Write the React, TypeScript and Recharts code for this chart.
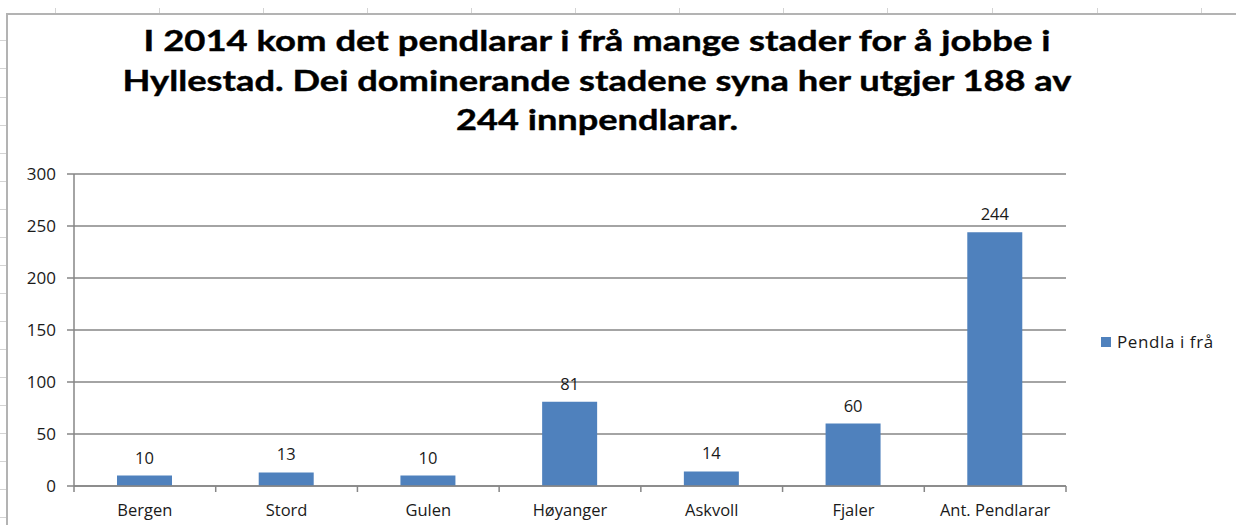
import React from 'react';
import { BarChart, Bar, XAxis, YAxis, CartesianGrid, LabelList } from 'recharts';

const places = ['Bergen', 'Stord', 'Gulen', 'Høyanger', 'Askvoll', 'Fjaler', 'Ant. Pendlarar'];
const pendlaIFra = [10, 13, 10, 81, 14, 60, 244];
const yTicks = [0, 50, 100, 150, 200, 250, 300];
const seriesName = 'Pendla i frå';
const titleLines = [
  'I 2014 kom det pendlarar i frå mange stader for å jobbe i',
  'Hyllestad. Dei dominerande stadene syna her utgjer 188 av',
  '244 innpendlarar.',
];

const data = places.map((name, i) => ({ name, value: pendlaIFra[i] }));

const FONT = 'Lato, "Open Sans", sans-serif';
const LABEL_FONT = '"Open Sans", Lato, sans-serif';
const GRID = '#868686';
const BAR = '#4f81bd';
const TEXT = '#1a1a1a';
const PLOT_W = 992;
const BAND = PLOT_W / places.length;
// stretched widths of the three title lines (Excel renders them wide)
const TITLE_LAYOUT = [
  { y: 51, w: 907 },
  { y: 91, w: 949 },
  { y: 130, w: 282 },
];

const XTick = (props: any) => {
  const { x, y, payload, index } = props;
  const last = index === places.length - 1;
  return (
    <g>
      <line x1={x - BAND / 2} x2={x - BAND / 2} y1={y - 6} y2={y} stroke={GRID} strokeWidth={1.5} />
      {last && <line x1={x + BAND / 2} x2={x + BAND / 2} y1={y - 6} y2={y} stroke={GRID} strokeWidth={1.5} />}
      <text x={x} y={y + 24} textAnchor="middle" fill={TEXT} fontSize={16.5} fontFamily={LABEL_FONT}>
        {payload.value}
      </text>
    </g>
  );
};

export default function App() {
  return (
    <div style={{ position: 'absolute', left: 0, top: 0, width: 1236, height: 525, overflow: 'hidden', background: '#fff' }}>
      {[55, 159, 263, 367, 471, 575, 679, 783, 887, 992, 1097, 1201].map((x) => (
        <div key={x} style={{ position: 'absolute', left: x, top: 8, width: 1, height: 5, background: '#d4d4d4' }} />
      ))}
      {[40, 68, 97, 125, 153, 181, 209, 237, 265, 293, 321, 349, 377, 405, 433, 461, 489, 517].map((y) => (
        <div key={y} style={{ position: 'absolute', left: 0, top: y, width: 6, height: 1, background: '#d4d4d4' }} />
      ))}
      <div
        style={{
          position: 'absolute',
          left: 6,
          top: 13,
          width: 1300,
          height: 600,
          borderLeft: '2px solid #b3b3b3',
          borderTop: '2px solid #b3b3b3',
        }}
      />
      <div style={{ position: 'absolute', left: 0, top: 0 }}>
        <BarChart
          width={1236}
          height={525}
          data={data}
          margin={{ top: 174, right: 170, bottom: 0, left: 14 }}
        >
          <CartesianGrid vertical={false} stroke={GRID} strokeWidth={1.5} />
          <XAxis
            dataKey="name"
            height={39}
            axisLine={{ stroke: GRID, strokeWidth: 1.5 }}
            tickLine={false}
            tickSize={6}
            tickMargin={0}
            interval={0}
            tick={<XTick />}
          />
          <YAxis
            domain={[0, 300]}
            ticks={yTicks}
            width={60}
            axisLine={{ stroke: GRID, strokeWidth: 1.5 }}
            tickLine={{ stroke: GRID, strokeWidth: 1.5 }}
            tickSize={7}
            tickMargin={11}
            tick={{ fill: TEXT, fontSize: 17, fontFamily: LABEL_FONT }}
          />
          <Bar dataKey="value" name={seriesName} fill={BAR} barSize={55} isAnimationActive={false}>
            <LabelList dataKey="value" position="top" offset={12} fill={TEXT} fontSize={16.5} fontFamily={LABEL_FONT} />
          </Bar>
        </BarChart>
      </div>
      <div
        style={{
          position: 'absolute',
          left: 1101,
          top: 331,
          display: 'flex',
          alignItems: 'center',
          fontFamily: LABEL_FONT,
          fontSize: 17,
          letterSpacing: 0.6,
          color: TEXT,
          lineHeight: '22px',
        }}
      >
        <span style={{ width: 10, height: 10, background: BAR, display: 'inline-block', marginRight: 6 }} />
        {seriesName}
      </div>
      <svg width={1236} height={150} style={{ position: 'absolute', left: 0, top: 0 }}>
        {titleLines.map((t, i) => (
          <text
            key={t}
            x={597}
            y={TITLE_LAYOUT[i].y}
            textAnchor="middle"
            textLength={TITLE_LAYOUT[i].w}
            lengthAdjust="spacingAndGlyphs"
            fontFamily={FONT}
            fontWeight={700}
            fontSize={29}
            fill="#000"
            stroke="#000"
            strokeWidth={0.4}
          >
            {t}
          </text>
        ))}
      </svg>
    </div>
  );
}
